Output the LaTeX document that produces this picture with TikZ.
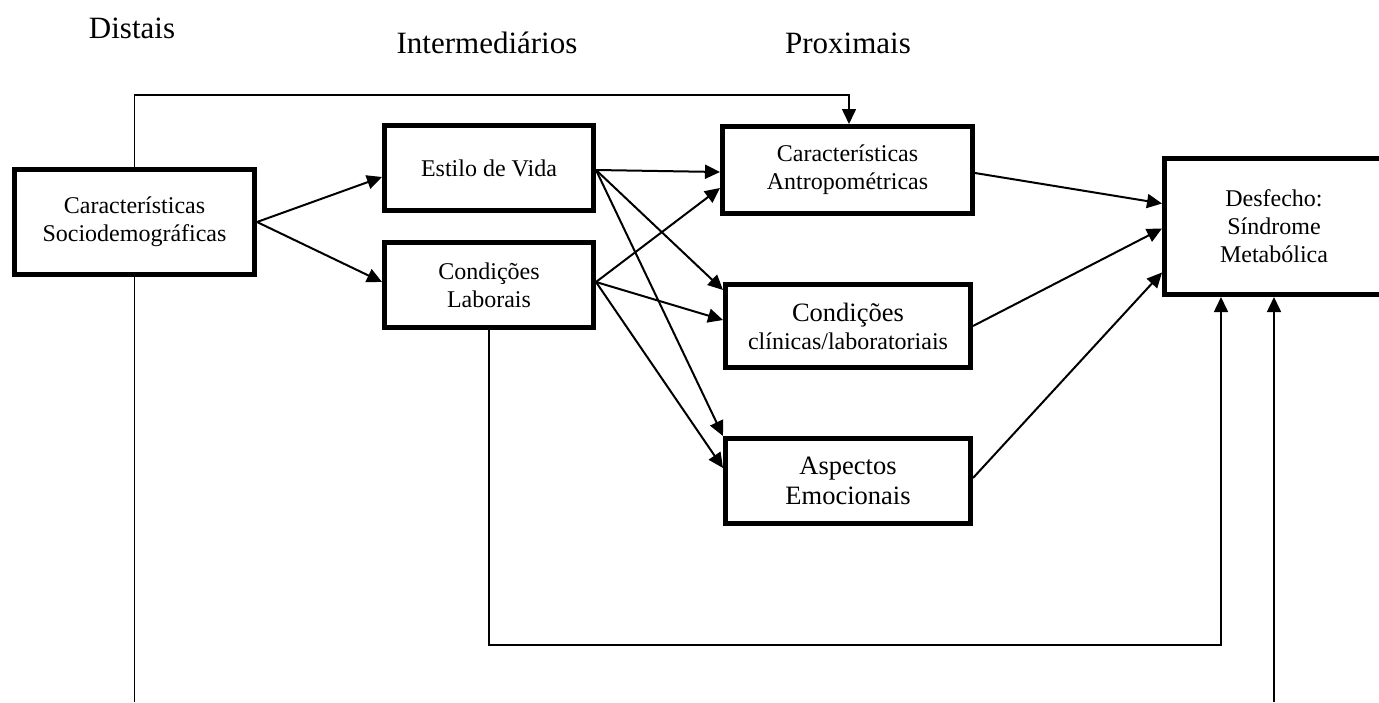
\documentclass[tikz,border=0pt]{standalone}
\usepackage{fontspec}
\setmainfont{Liberation Serif}
\usetikzlibrary{arrows.meta,calc}
\begin{document}
\begin{tikzpicture}[x=1pt,y=-1pt,
  box/.style={draw,line width=5pt,inner sep=0pt,align=center,font=\fontsize{24}{28}\selectfont},
  hdr/.style={inner sep=0pt,anchor=base,font=\fontsize{31}{34}\selectfont},
  arr/.style={line width=2pt,-{Triangle[length=15pt,width=14pt]}},
  thin/.style={line width=1.6pt},
  thinarr/.style={line width=1.6pt,-{Triangle[length=15pt,width=14pt]}}]
\useasboundingbox (0,0) rectangle (1379,702);
\fill[white] (0,0) rectangle (1379,702);
% headers
\node[hdr] (hd) at (132,38) {Distais};
\node[hdr] (hi) at (487,53) {Intermediários};
\node[hdr] (hp) at (848,53) {Proximais};
% boxes
\node[box,minimum width=240pt,minimum height=105pt] (socio) at (134.5,222) {Características\\Sociodemográficas};
\node[box,minimum width=209pt,minimum height=85pt] (estilo) at (489,168) {Estilo de Vida};
\node[box,minimum width=209pt,minimum height=85pt] (lab) at (489,285) {Condições\\Laborais};
\node[box,minimum width=250pt,minimum height=87pt] (antropo) at (847.5,170) {Características\\Antropométricas};
\node[box,minimum width=245pt,minimum height=83pt] (clin) at (848,326) {{\fontsize{26.5}{29}\selectfont Condições}\\clínicas/laboratoriais};
\node[box,minimum width=245pt,minimum height=85pt,font=\fontsize{26.5}{30}\selectfont] (asp) at (848,481) {Aspectos\\Emocionais};
\node[box,minimum width=219pt,minimum height=136pt] (desf) at (1274,226.5) {Desfecho:\\Síndrome\\Metabólica};
% free ends
\coordinate (bl) at (134.5,702);
\coordinate (br) at (1274,702);
% connectors
\draw[arr] (socio.east) -- ([yshift=-9pt]estilo.west);
\draw[arr] (socio.east) -- ([yshift=3pt]lab.west);
\draw[arr] ([yshift=-2pt]estilo.east) -- ([yshift=-2pt]antropo.west);
\draw[arr] ([yshift=-2pt]estilo.east) -- ([yshift=36pt]clin.west);
\draw[arr] ([yshift=-2pt]estilo.east) -- (asp.north west);
\draw[arr] ([yshift=3pt]lab.east) -- ([yshift=-18pt]antropo.west);
\draw[arr] ([yshift=3pt]lab.east) -- ([yshift=6pt]clin.west);
\draw[arr] ([yshift=3pt]lab.east) -- ([yshift=13pt]asp.west);
\draw[arr] ([yshift=-3pt]antropo.east) -- ([yshift=23pt]desf.west);
\draw[arr] (clin.east) -- ([yshift=-2pt]desf.west);
\draw[arr] ([yshift=3pt]asp.east) -- ([yshift=-46pt]desf.west);
\draw[thinarr] (socio.north) -- ++(0,-72) -| ([xshift=1.5pt]antropo.north);
\draw[thinarr] (lab.south) -- ++(0,315) -| ([xshift=-53pt]desf.south);
\draw[thin] (socio.south) -- (bl);
\draw[thinarr] (br) -- (desf.south);
\end{tikzpicture}
\end{document}
